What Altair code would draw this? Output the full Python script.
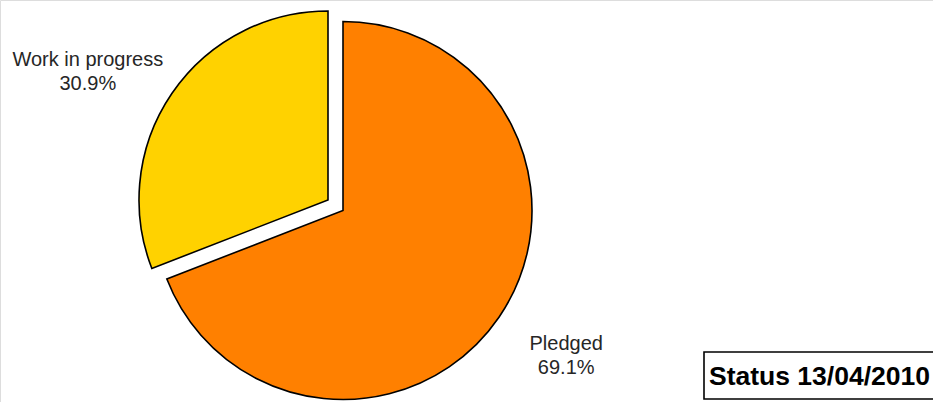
import altair as alt
import pandas as pd
import math

categories = ["Pledged", "Work in progress"]
values = [69.1, 30.9]
colors = ["#FF8000", "#FFD200"]
status_text = ["Status 13/04/2010"]

df = pd.DataFrame({"category": categories, "value": values, "color": colors})

W, H = 933, 402
R = 189
centers = {"Pledged": (343, 210.5), "Work in progress": (328, 200)}
label_shift = {"Pledged": (2, -18), "Work in progress": (-19, 11)}

theta_scale = alt.Scale(domain=[0, 1], range=[0, 2 * math.pi])

base = (
    alt.Chart(df)
    .transform_joinaggregate(total="sum(value)")
    .transform_window(cum="sum(value)", frame=[None, 0])
    .transform_calculate(
        end="datum.cum / datum.total",
        start="(datum.cum - datum.value) / datum.total",
        mid="(datum.cum - datum.value / 2) / datum.total",
        label="[datum.category, format(datum.value, '.1f') + '%']",
    )
)

layers = []
for cat in categories:
    cx, cy = centers[cat]
    ddx, ddy = label_shift[cat]
    sub = base.transform_filter(alt.datum.category == cat)
    arc = sub.mark_arc(stroke="#000000", strokeWidth=1.6, radius=R).encode(
        theta=alt.Theta("start:Q", scale=theta_scale),
        theta2="end:Q",
        color=alt.Color("color:N", scale=None),
        x=alt.value(cx),
        y=alt.value(cy),
    )
    txt = sub.mark_text(
        radius=268,
        dx=ddx,
        dy=ddy,
        font="Liberation Sans",
        fontSize=20,
        color="#262626",
        align="center",
        baseline="middle",
        lineHeight=24,
    ).encode(
        theta=alt.Theta("mid:Q", scale=theta_scale),
        text="label:N",
        x=alt.value(cx),
        y=alt.value(cy),
    )
    layers += [arc, txt]

sdf = pd.DataFrame({"t": status_text})
box = alt.Chart(sdf).mark_rect(fill="white", stroke="#000000", strokeWidth=1.6).encode(
    x=alt.value(704), x2=alt.value(945), y=alt.value(352), y2=alt.value(399)
)
stext = alt.Chart(sdf).mark_text(
    font="Liberation Sans", fontSize=26.5, fontWeight="bold", align="left",
    baseline="middle", color="#000000"
).encode(text="t:N", x=alt.value(709), y=alt.value(377))

chart = (
    alt.layer(*layers, box, stext)
    .properties(width=W, height=H, padding=0, autosize=alt.AutoSizeParams(type="none"))
    .configure_view(stroke=None)
    .configure(background="white")
)

chart.save("out.html", embed_options={"renderer": "svg", "actions": False})
